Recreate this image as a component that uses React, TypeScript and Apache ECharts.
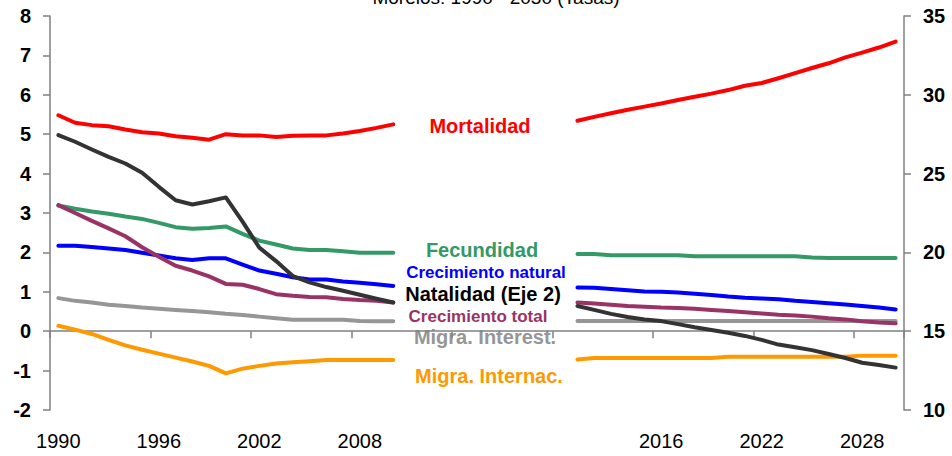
import React, { useEffect, useRef } from 'react';
import * as echarts from 'echarts';

const yearsFirst = ['1990','1991','1992','1993','1994','1995','1996','1997','1998','1999','2000','2001','2002','2003','2004','2005','2006','2007','2008','2009','2010'];
const gapLabels = ['','','','','','','','','',''];
const yearsSecond = ['2011','2012','2013','2014','2015','2016','2017','2018','2019','2020','2021','2022','2023','2024','2025','2026','2027','2028','2029','2030'];
const categories = [...yearsFirst, ...gapLabels, ...yearsSecond];

const leftTicks = { min: -2, max: 8, interval: 1 };
const rightTicks = { min: 10, max: 35, interval: 5 };

const mortalidadA = [5.48,5.29,5.23,5.2,5.12,5.05,5.02,4.95,4.91,4.86,5.0,4.97,4.97,4.93,4.96,4.97,4.97,5.02,5.08,5.16,5.25];
const mortalidadB = [5.34,5.44,5.53,5.62,5.7,5.78,5.87,5.95,6.03,6.12,6.23,6.3,6.42,6.55,6.68,6.8,6.95,7.07,7.2,7.35];

const fecundidadA = [3.19,3.11,3.04,2.98,2.91,2.85,2.75,2.64,2.6,2.62,2.66,2.47,2.3,2.2,2.1,2.06,2.06,2.03,1.99,1.99,1.99];
const fecundidadB = [1.96,1.96,1.93,1.93,1.93,1.93,1.93,1.9,1.9,1.9,1.9,1.9,1.9,1.9,1.87,1.86,1.86,1.86,1.86,1.86];

const crecNaturalA = [2.17,2.17,2.14,2.1,2.06,1.99,1.92,1.85,1.81,1.85,1.85,1.69,1.54,1.46,1.37,1.31,1.31,1.26,1.23,1.19,1.15];
const crecNaturalB = [1.11,1.1,1.07,1.04,1.01,1.0,0.98,0.95,0.92,0.88,0.85,0.83,0.81,0.77,0.74,0.71,0.68,0.64,0.6,0.55];

const crecTotalA = [3.2,3.0,2.8,2.61,2.41,2.13,1.89,1.66,1.54,1.39,1.2,1.18,1.07,0.94,0.9,0.87,0.86,0.82,0.79,0.77,0.73];
const crecTotalB = [0.73,0.7,0.67,0.64,0.62,0.6,0.59,0.57,0.54,0.51,0.48,0.45,0.42,0.4,0.37,0.33,0.3,0.25,0.22,0.2];

const migInterestA = [0.84,0.77,0.73,0.67,0.64,0.6,0.57,0.54,0.51,0.48,0.44,0.41,0.37,0.33,0.29,0.29,0.29,0.29,0.26,0.25,0.25];
const migInterestB = [0.26,0.26,0.26,0.26,0.26,0.26,0.26,0.26,0.26,0.26,0.26,0.26,0.26,0.26,0.26,0.26,0.26,0.26,0.26,0.26];

const migInternacA = [0.14,0.04,-0.07,-0.22,-0.36,-0.47,-0.57,-0.67,-0.77,-0.88,-1.07,-0.95,-0.88,-0.82,-0.79,-0.76,-0.73,-0.73,-0.73,-0.73,-0.73];
const migInternacB = [-0.72,-0.68,-0.68,-0.68,-0.68,-0.68,-0.68,-0.68,-0.68,-0.65,-0.65,-0.65,-0.65,-0.65,-0.65,-0.65,-0.65,-0.62,-0.62,-0.62];

const natalidadA = [27.44,27.02,26.53,26.06,25.64,25.05,24.16,23.31,23.04,23.25,23.49,21.95,20.3,19.45,18.5,18.1,17.8,17.57,17.31,17.06,16.82];
const natalidadB = [16.6,16.35,16.1,15.9,15.74,15.64,15.45,15.25,15.08,14.9,14.7,14.45,14.15,13.98,13.8,13.55,13.3,13.0,12.85,12.69];

const join = (a: number[], b: number[]) => [...a, ...gapLabels.map(() => null), ...b];

const FONT = '"Liberation Sans", Arial, Helvetica, sans-serif';

export default function App() {
  const ref = useRef<HTMLDivElement>(null);
  useEffect(() => {
    if (!ref.current) return;
    const chart = echarts.init(ref.current, undefined, { renderer: 'svg' });
    const mk = (name: string, data: (number | null)[], color: string, yAxisIndex = 0) => ({
      name,
      type: 'line',
      yAxisIndex,
      data,
      symbol: 'none',
      connectNulls: false,
      lineStyle: { color, width: 4, cap: 'round', join: 'round' },
      itemStyle: { color },
    });
    const label = (text: string, x: number, y: number, color: string, size: number) => ({
      type: 'text',
      x,
      y,
      style: {
        text,
        fill: color,
        font: `bold ${size}px ${FONT}`,
        align: 'center',
        verticalAlign: 'middle',
      },
    });
    const axisLineStyle = { color: '#808080', width: 1.5 };
    chart.setOption({
      animation: false,
      backgroundColor: '#ffffff',
      grid: { left: 50, right: 48, top: 16, bottom: 46, containLabel: false },
      xAxis: {
        type: 'category',
        data: categories,
        boundaryGap: true,
        axisLine: { lineStyle: axisLineStyle },
        axisTick: { show: true, interval: 5, length: 7, inside: false, lineStyle: axisLineStyle },
        axisLabel: { interval: 5, margin: 21, color: '#000', fontSize: 20, fontFamily: FONT },
        splitLine: { show: false },
      },
      yAxis: [
        {
          type: 'value',
          position: 'left',
          min: leftTicks.min,
          max: leftTicks.max,
          interval: leftTicks.interval,
          axisLine: { show: true, lineStyle: axisLineStyle },
          axisTick: { show: true, length: 7, lineStyle: axisLineStyle },
          axisLabel: { margin: 19, color: '#000', fontSize: 20, fontWeight: 'bold', fontFamily: FONT },
          splitLine: { show: false },
        },
        {
          type: 'value',
          position: 'right',
          min: rightTicks.min,
          max: rightTicks.max,
          interval: rightTicks.interval,
          axisLine: { show: true, lineStyle: axisLineStyle },
          axisTick: { show: true, length: 7, lineStyle: axisLineStyle },
          axisLabel: { margin: 19, color: '#000', fontSize: 20, fontWeight: 'bold', fontFamily: FONT },
          splitLine: { show: false },
        },
      ],
      series: [
        mk('Mortalidad', join(mortalidadA, mortalidadB), '#ff0000'),
        mk('Fecundidad', join(fecundidadA, fecundidadB), '#339966'),
        mk('Migra. Interest.', join(migInterestA, migInterestB), '#969696'),
        mk('Migra. Internac.', join(migInternacA, migInternacB), '#ff9900'),
        mk('Crecimiento natural', join(crecNaturalA, crecNaturalB), '#0000ff'),
        mk('Crecimiento total', join(crecTotalA, crecTotalB), '#993366'),
        mk('Natalidad (Eje 2)', join(natalidadA, natalidadB), '#333333', 1),
      ],
      graphic: [
        {
          type: 'text',
          x: 496,
          y: -3,
          style: {
            text: 'Morelos: 1990 - 2030 (Tasas)',
            fill: '#000',
            font: `19px ${FONT}`,
            align: 'center',
            verticalAlign: 'middle',
          },
        },
        label('Mortalidad', 480, 126, '#ff0000', 20),
        label('Fecundidad', 482, 250, '#339966', 20),
        label('Crecimiento natural', 486, 272, '#0000ff', 17),
        label('Natalidad (Eje 2)', 483, 294, '#000000', 20),
        label('Crecimiento total', 478, 316, '#993366', 17),
        label('Migra. Interest.', 485, 337, '#969696', 20),
        label('Migra. Internac.', 489, 376, '#ff9900', 20),
      ],
    });
    return () => chart.dispose();
  }, []);
  return <div ref={ref} style={{ position: 'fixed', left: 0, top: 0, width: 952, height: 456 }} />;
}
